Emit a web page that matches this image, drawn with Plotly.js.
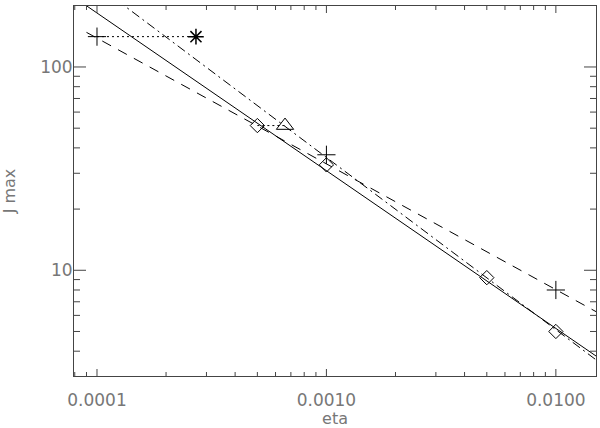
<!DOCTYPE html>
<html>
<head>
<meta charset="utf-8">
<script src="https://cdn.plot.ly/plotly-3.0.1.min.js"></script>
<style>html,body{margin:0;padding:0;background:#fff}#chart{width:600px;height:428px}</style>
</head>
<body>
<div id="chart"></div>
<script>
// Fit lines (end points)
const fitEta = [0.00009, 0.015];
const fitSolid = [200, 3.78];
const fitDash = [148, 6.25];
const fitDashDot = [276, 3.62];

// Plus markers
const plusEta = [0.0001, 0.001, 0.01];
const plusJ = [141, 37, 8.0];

// Diamond markers
const diamondEta = [0.0005, 0.001, 0.005, 0.01];
const diamondJ = [51.5, 33, 9.2, 5.0];

// Dotted connectors: plus -> asterisk, diamond -> triangle
const starEta = [0.0001, 0.00027];
const starJ = [141, 141];
const triEta = [0.0005, 0.00066];
const triJ = [51.5, 51.5];

// Tick values
const xMajor = [0.0001, 0.001, 0.01];
const xLabels = ['0.0001', '0.0010', '0.0100'];
const yMajor = [10, 100];
const yLabels = ['10', '100'];
const xMinor = [8e-5, 9e-5, 2e-4, 3e-4, 4e-4, 5e-4, 6e-4, 7e-4, 8e-4, 9e-4,
                2e-3, 3e-3, 4e-3, 5e-3, 6e-3, 7e-3, 8e-3, 9e-3];
const yMinor = [4, 5, 6, 7, 8, 9, 20, 30, 40, 50, 60, 70, 80, 90];

const xRange = [Math.log10(7.94e-5), Math.log10(0.01496)];
const yRange = [Math.log10(3.02), Math.log10(199.5)];

const labelFont = {family: 'DejaVu Sans, sans-serif', size: 17, color: '#777'};
const titleFont = {family: 'DejaVu Sans, sans-serif', size: 16, color: '#777'};
const tickColor = '#444';

const traces = [
  {x: fitEta, y: fitSolid, mode: 'lines', line: {color: '#000', width: 1}},
  {x: fitEta, y: fitDash, mode: 'lines', line: {color: '#000', width: 1, dash: '10px,8px'}},
  {x: fitEta, y: fitDashDot, mode: 'lines', line: {color: '#000', width: 1, dash: '9px,4px,2px,4px'}},
  {x: starEta, y: starJ, mode: 'lines', line: {color: '#000', width: 1, dash: '2px,3px'}},
  {x: triEta, y: triJ, mode: 'lines', line: {color: '#000', width: 1, dash: '2px,3px'}},
  {x: plusEta, y: plusJ, mode: 'markers', marker: {symbol: 'cross-thin-open', size: 13, color: '#000', line: {color: '#000', width: 1}}},
  {x: diamondEta, y: diamondJ, mode: 'markers', marker: {symbol: 'diamond-open', size: 11, color: '#000', line: {color: '#000', width: 1}}},
  {x: [starEta[1]], y: [starJ[1]], mode: 'markers', marker: {symbol: 'asterisk-open', size: 13, color: '#000', line: {color: '#000', width: 1.5}}},
  {x: [triEta[1]], y: [triJ[1]], mode: 'markers', marker: {symbol: 'triangle-up-open', size: 15, color: '#000', line: {color: '#000', width: 1}}}
];

// Inward-pointing IDL-style ticks on all four sides, placed at the tick values
const tickShapes = [];
function xTicks(vals, len) {
  vals.forEach(function (v) {
    tickShapes.push({type: 'line', layer: 'above', xref: 'x', yref: 'paper', ysizemode: 'pixel', yanchor: 0,
      x0: v, x1: v, y0: 0, y1: len, line: {color: tickColor, width: 1}});
    tickShapes.push({type: 'line', layer: 'above', xref: 'x', yref: 'paper', ysizemode: 'pixel', yanchor: 1,
      x0: v, x1: v, y0: 0, y1: -len, line: {color: tickColor, width: 1}});
  });
}
function yTicks(vals, len) {
  vals.forEach(function (v) {
    tickShapes.push({type: 'line', layer: 'above', yref: 'y', xref: 'paper', xsizemode: 'pixel', xanchor: 0,
      y0: v, y1: v, x0: 0, x1: len, line: {color: tickColor, width: 1}});
    tickShapes.push({type: 'line', layer: 'above', yref: 'y', xref: 'paper', xsizemode: 'pixel', xanchor: 1,
      y0: v, y1: v, x0: 0, x1: -len, line: {color: tickColor, width: 1}});
  });
}
xTicks(xMajor, 7); xTicks(xMinor, 4);
yTicks(yMajor, 12); yTicks(yMinor, 6);

const layout = {
  width: 600, height: 428,
  margin: {l: 74, r: 4, t: 6, b: 52},
  paper_bgcolor: '#fff', plot_bgcolor: '#fff',
  showlegend: false,
  shapes: tickShapes,
  xaxis: {
    type: 'log', range: xRange,
    tickmode: 'array', tickvals: xMajor, ticktext: xLabels,
    ticks: '', ticklabelstandoff: 9,
    showline: true, linecolor: tickColor, linewidth: 1, mirror: true,
    showgrid: false, zeroline: false,
    tickfont: labelFont,
    title: {text: 'eta', font: titleFont, standoff: 14}
  },
  yaxis: {
    type: 'log', range: yRange,
    tickmode: 'array', tickvals: yMajor, ticktext: yLabels,
    ticks: '', ticklabelstandoff: -3,
    showline: true, linecolor: tickColor, linewidth: 1, mirror: true,
    showgrid: false, zeroline: false,
    tickfont: labelFont,
    title: {text: 'J max', font: titleFont, standoff: 22}
  }
};

Plotly.newPlot('chart', traces, layout, {displayModeBar: false, staticPlot: true});
</script>
</body>
</html>
